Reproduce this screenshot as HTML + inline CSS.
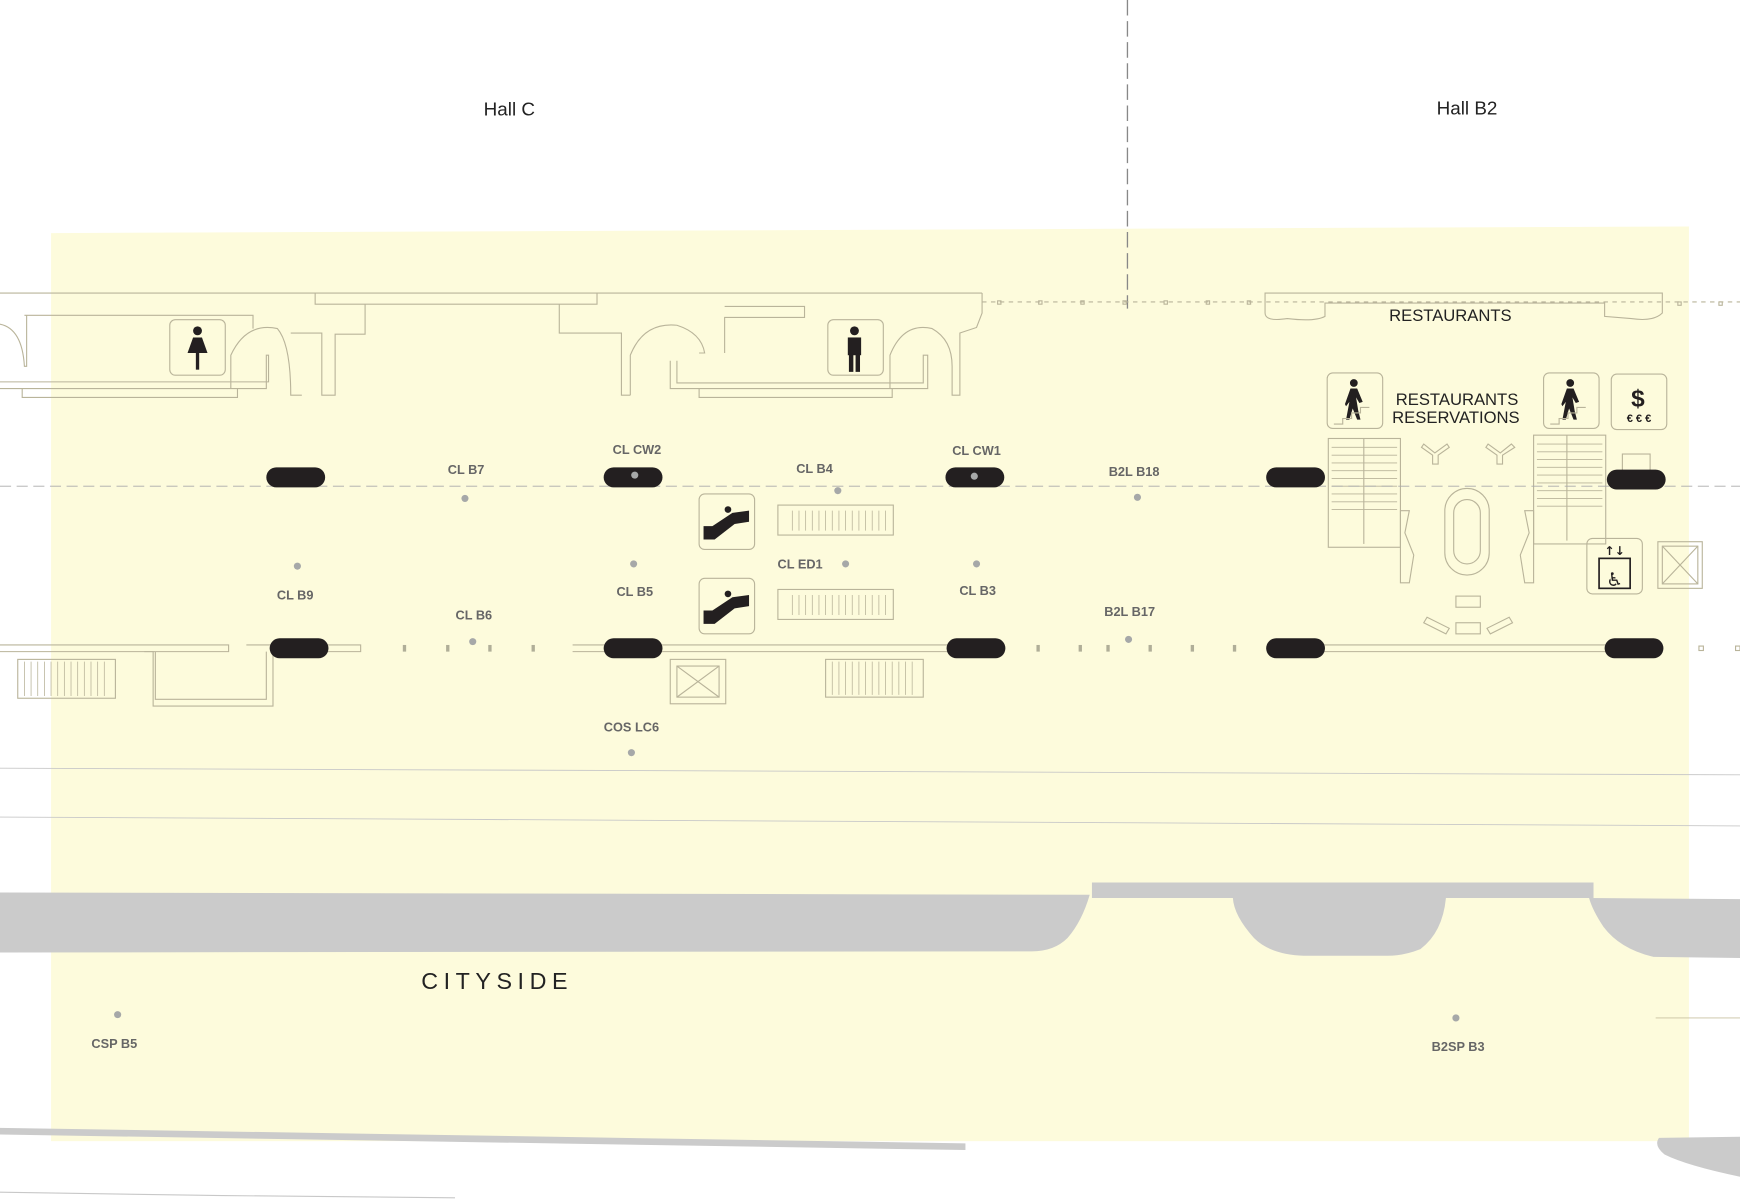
<!DOCTYPE html>
<html><head><meta charset="utf-8"><style>
html,body{margin:0;padding:0;background:#fff;width:1740px;height:1200px;overflow:hidden}
svg{display:block}
.lbl{font-family:"Liberation Sans Narrow","Liberation Sans",sans-serif;font-weight:bold;font-size:11.5px;fill:#666;text-anchor:middle}
.w{fill:none;stroke:#b9b49a;stroke-width:1}
.d{fill:#a6a8a8}
.pill{fill:#231f20}
</style></head><body>
<svg width="1740" height="1200" viewBox="0 0 1568 1081" preserveAspectRatio="none" xmlns="http://www.w3.org/2000/svg">
<rect width="1568" height="1081" fill="#fff"/>
<polygon points="46,210 1522,204 1522,1028 46,1028" fill="#fdfbdc"/>
<text x="459" y="104" font-family="Liberation Sans,sans-serif" font-size="17" text-anchor="middle" fill="#222">Hall C</text>
<text x="1322" y="103" font-family="Liberation Sans,sans-serif" font-size="17" text-anchor="middle" fill="#222">Hall B2</text>
<line x1="1016" y1="0" x2="1016" y2="278" stroke="#888" stroke-width="1.2" stroke-dasharray="14,5"/>
<polyline class="w" points="0,264 885,264"/>
<polyline class="w" points="885,272 1568,272" stroke-dasharray="4,4"/>
<polyline class="w" points="284,264 284,274 538,274 538,264"/>
<polyline class="w" points="329,274 329,301 302,301 302,356 290,356 290,300 262,300"/>
<polyline class="w" points="22,284 228,284 228,296"/>
<path class="w" d="M0,292 Q20,296 22,330 L24,330 L24,284"/>
<path class="w" d="M208,350 L208,320 Q222,290 250,296 Q262,310 262,356 L272,356"/>
<polyline class="w" points="0,344 242,344 242,320 240,320 240,350 0,350"/>
<polyline class="w" points="20,350 20,358 214,358 214,350"/>
<polyline class="w" points="504,274 504,300 560,300 560,356 568,356"/>
<path class="w" d="M568,356 L568,320 Q580,290 610,293 Q632,300 635,318 L630,318"/>
<polyline class="w" points="604,325 604,350 836,350 836,320 832,320 832,345 610,345 610,325"/>
<polyline class="w" points="630,350 630,358 804,358 804,350"/>
<polyline class="w" points="653,318 653,286 725,286 725,276 653,276"/>
<path class="w" d="M802,350 L802,320 Q814,290 840,296 Q858,306 858,330 L858,356 L865,356 L865,300 L880,295 L885,282 L885,264"/>
<rect x="153" y="288" width="50" height="50" rx="5" class="w" fill="#fdfbdc"/>
<rect x="746" y="288" width="50" height="50" rx="5" class="w" fill="#fdfbdc"/>
<g fill="#231f20">
<circle cx="178" cy="298" r="4"/><polygon points="174,304 182,304 187,318 169,318"/><rect x="176.5" y="318" width="3" height="15"/>
<circle cx="770" cy="298" r="4"/><rect x="764" y="304" width="12" height="16"/><rect x="765" y="318" width="4" height="17"/><rect x="771" y="318" width="4" height="17"/>
</g>
<path class="w" d="M1140,264 L1498,264 L1498,282 Q1490,290 1470,287 L1446,285 L1446,273 L1194,273 L1194,285 Q1185,290 1160,287 Q1140,290 1140,282 Z"/>
<g class="w"><rect x="899" y="271" width="3" height="3"/><rect x="936" y="271" width="3" height="3"/><rect x="974" y="271" width="3" height="3"/><rect x="1012" y="271" width="3" height="3"/><rect x="1049" y="271" width="3" height="3"/><rect x="1087" y="271" width="3" height="3"/><rect x="1124" y="271" width="3" height="3"/><rect x="1512" y="272" width="3" height="3"/><rect x="1549" y="272" width="3" height="3"/></g>
<text x="1307" y="289" font-family="Liberation Sans Narrow,Liberation Sans,sans-serif" font-size="15" text-anchor="middle" fill="#222">RESTAURANTS</text>
<text x="1313" y="365" font-family="Liberation Sans Narrow,Liberation Sans,sans-serif" font-size="15" text-anchor="middle" fill="#222">RESTAURANTS</text>
<text x="1312" y="381" font-family="Liberation Sans Narrow,Liberation Sans,sans-serif" font-size="15" text-anchor="middle" fill="#222">RESERVATIONS</text>
<rect x="1196" y="336" width="50" height="50" rx="5" class="w"/>
<rect x="1391" y="336" width="50" height="50" rx="5" class="w"/>
<rect x="1452" y="337" width="50" height="50" rx="5" class="w"/>
<g fill="#231f20">
<circle cx="1220" cy="345" r="3.5"/><polygon points="1217,350 1223,350 1228,362 1225,363 1222,358 1224,370 1226,378 1223,378 1219,368 1216,378 1213,378 1216,362 1213,366 1212,364"/>
<circle cx="1415" cy="345" r="3.5"/><polygon points="1412,350 1418,350 1423,362 1420,363 1417,358 1419,370 1421,378 1418,378 1414,368 1411,378 1408,378 1411,362 1408,366 1407,364"/>
</g>
<polyline class="w" points="1202,382 1210,382 1210,377 1218,377 1218,372 1226,372 1226,367 1234,367"/>
<polyline class="w" points="1397,382 1405,382 1405,377 1413,377 1413,372 1421,372 1421,367 1429,367"/>
<text x="1476" y="366" font-family="Liberation Sans,sans-serif" font-weight="bold" font-size="22" text-anchor="middle" fill="#231f20">$</text>
<text x="1477" y="380" font-family="Liberation Sans,sans-serif" font-weight="bold" font-size="10" text-anchor="middle" fill="#231f20">€ € €</text>
<g class="w">
<rect x="1197" y="395" width="65" height="98"/><line x1="1229" y1="395" x2="1229" y2="490"/>
<rect x="1382" y="392" width="65" height="98"/><line x1="1412" y1="392" x2="1412" y2="487"/>
</g>
<g stroke="#b9b49a" stroke-width="0.8">
<line x1="1200" y1="403" x2="1259" y2="403"/><line x1="1200" y1="410" x2="1259" y2="410"/><line x1="1200" y1="417" x2="1259" y2="417"/><line x1="1200" y1="424" x2="1259" y2="424"/><line x1="1200" y1="431" x2="1259" y2="431"/><line x1="1200" y1="438" x2="1259" y2="438"/><line x1="1200" y1="445" x2="1259" y2="445"/><line x1="1200" y1="452" x2="1259" y2="452"/><line x1="1200" y1="459" x2="1259" y2="459"/>
<line x1="1385" y1="400" x2="1444" y2="400"/><line x1="1385" y1="407" x2="1444" y2="407"/><line x1="1385" y1="414" x2="1444" y2="414"/><line x1="1385" y1="421" x2="1444" y2="421"/><line x1="1385" y1="428" x2="1444" y2="428"/><line x1="1385" y1="435" x2="1444" y2="435"/><line x1="1385" y1="442" x2="1444" y2="442"/><line x1="1385" y1="449" x2="1444" y2="449"/><line x1="1385" y1="456" x2="1444" y2="456"/>
</g>
<path class="w" d="M1262,460 L1270,460 L1266,480 L1274,500 L1270,525 L1262,525 Z"/>
<path class="w" d="M1382,460 L1374,460 L1378,480 L1370,500 L1374,525 L1382,525 Z"/>
<rect x="1302" y="440" width="40" height="78" rx="20" class="w"/>
<rect x="1310" y="450" width="24" height="58" rx="12" class="w"/>
<path class="w" d="M1283,400 L1293,408 L1304,400 L1306,403 L1296,410 L1296,418 L1291,418 L1291,410 L1281,403 Z"/>
<path class="w" d="M1341,400 L1352,408 L1362,400 L1365,403 L1354,410 L1354,418 L1349,418 L1349,410 L1339,403 Z"/>
<rect x="1312" y="537" width="22" height="10" class="w"/><rect x="1312" y="561" width="22" height="10" class="w"/>
<polygon class="w" points="1286,556 1306,566 1303,571 1283,561"/><polygon class="w" points="1360,556 1340,566 1343,571 1363,561"/>
<rect x="1462" y="409" width="25" height="20" class="w"/>
<rect x="1430" y="485" width="50" height="50" rx="5" class="w"/>
<rect x="1441" y="503" width="28" height="27" fill="none" stroke="#231f20" stroke-width="1.5"/>
<text x="1455" y="500" font-family="DejaVu Sans,sans-serif" font-weight="bold" font-size="11" text-anchor="middle" fill="#231f20">↑↓</text>
<text x="1455" y="528" font-family="DejaVu Sans,sans-serif" font-size="17" text-anchor="middle" fill="#231f20">♿</text>
<rect x="1494" y="488" width="40" height="42" class="w"/><rect x="1498" y="492" width="32" height="34" class="w"/>
<line x1="1498" y1="492" x2="1530" y2="526" stroke="#b9b49a"/><line x1="1530" y1="492" x2="1498" y2="526" stroke="#b9b49a"/>
<line x1="0" y1="438" x2="1568" y2="438" stroke="#aaa" stroke-width="0.8" stroke-dasharray="10,5"/>
<g class="w">
<polyline points="0,581 206,581 206,587 0,587"/>
<polyline points="222,581 325,581 325,587 246,587 246,636 138,636 138,587 130,587"/>
<polyline points="140,587 140,630 240,630 240,587"/>
<polyline points="516,581 870,581 870,587 516,587"/>
<polyline points="1190,581 1450,581 1450,587 1190,587"/>
<rect x="16" y="594" width="88" height="35"/><rect x="744" y="594" width="88" height="34"/>
<rect x="604" y="594" width="50" height="40"/><rect x="610" y="600" width="38" height="28"/>
<rect x="701" y="455" width="104" height="27"/><rect x="701" y="531" width="104" height="27"/>
<rect x="1531" y="582" width="4" height="4"/><rect x="1564" y="582" width="4" height="4"/>
</g>
<line x1="610" y1="600" x2="648" y2="628" stroke="#b9b49a"/><line x1="648" y1="600" x2="610" y2="628" stroke="#b9b49a"/>
<g stroke="#b9b49a" stroke-width="0.7">
<path d="M22,596V627M28,596V627M34,596V627M40,596V627M46,596V627M52,596V627M58,596V627M64,596V627M70,596V627M76,596V627M82,596V627M88,596V627M94,596V627"/>
<path d="M750,596V626M756,596V626M762,596V626M768,596V626M774,596V626M780,596V626M786,596V626M792,596V626M798,596V626M804,596V626M810,596V626M816,596V626M822,596V626"/>
<path d="M714,460V478M720,460V478M726,460V478M732,460V478M738,460V478M744,460V478M750,460V478M756,460V478M762,460V478M768,460V478M774,460V478M780,460V478M786,460V478M792,460V478M798,460V478"/>
<path d="M714,536V554M720,536V554M726,536V554M732,536V554M738,536V554M744,536V554M750,536V554M756,536V554M762,536V554M768,536V554M774,536V554M780,536V554M786,536V554M792,536V554M798,536V554"/>
</g>
<g fill="#b0ae98">
<rect x="363" y="581" width="3" height="6"/><rect x="402" y="581" width="3" height="6"/><rect x="440" y="581" width="3" height="6"/><rect x="479" y="581" width="3" height="6"/>
<rect x="934" y="581" width="3" height="6"/><rect x="972" y="581" width="3" height="6"/><rect x="997" y="581" width="3" height="6"/><rect x="1035" y="581" width="3" height="6"/><rect x="1073" y="581" width="3" height="6"/><rect x="1111" y="581" width="3" height="6"/>
</g>
<rect x="630" y="445" width="50" height="50" rx="5" class="w"/>
<rect x="630" y="521" width="50" height="50" rx="5" class="w"/>
<g fill="#231f20">
<polygon points="634,474 642,474 660,462 675,460 675,470 662,472 644,486 634,486"/><circle cx="656" cy="459" r="3"/>
<polygon points="634,550 642,550 660,538 675,536 675,546 662,548 644,562 634,562"/><circle cx="656" cy="535" r="3"/>
</g>
<g class="pill">
<rect x="240" y="421" width="53" height="18" rx="9"/><rect x="544" y="421" width="53" height="18" rx="9"/><rect x="852" y="421" width="53" height="18" rx="9"/><rect x="1141" y="421" width="53" height="18" rx="9"/><rect x="1448" y="423" width="53" height="18" rx="9"/>
<rect x="243" y="575" width="53" height="18" rx="9"/><rect x="544" y="575" width="53" height="18" rx="9"/><rect x="853" y="575" width="53" height="18" rx="9"/><rect x="1141" y="575" width="53" height="18" rx="9"/><rect x="1446" y="575" width="53" height="18" rx="9"/>
</g>
<text class="lbl" x="420" y="427">CL B7</text><circle class="d" cx="419" cy="449" r="3.2"/>
<text class="lbl" x="574" y="409">CL CW2</text><circle class="d" cx="572" cy="428" r="3.2"/>
<text class="lbl" x="734" y="426">CL B4</text><circle class="d" cx="755" cy="442" r="3.2"/>
<text class="lbl" x="880" y="410">CL CW1</text><circle class="d" cx="878" cy="429" r="3.2"/>
<text class="lbl" x="1022" y="429">B2L B18</text><circle class="d" cx="1025" cy="448" r="3.2"/>
<text class="lbl" x="266" y="540">CL B9</text><circle class="d" cx="268" cy="510" r="3.2"/>
<text class="lbl" x="572" y="537">CL B5</text><circle class="d" cx="571" cy="508" r="3.2"/>
<text class="lbl" x="721" y="512">CL ED1</text><circle class="d" cx="762" cy="508" r="3.2"/>
<text class="lbl" x="881" y="536">CL B3</text><circle class="d" cx="880" cy="508" r="3.2"/>
<text class="lbl" x="1018" y="555">B2L B17</text><circle class="d" cx="1017" cy="576" r="3.2"/>
<text class="lbl" x="427" y="558">CL B6</text><circle class="d" cx="426" cy="578" r="3.2"/>
<text class="lbl" x="569" y="659">COS LC6</text><circle class="d" cx="569" cy="678" r="3.2"/>
<text class="lbl" x="103" y="944">CSP B5</text><circle class="d" cx="106" cy="914" r="3.2"/>
<text class="lbl" x="1314" y="947">B2SP B3</text><circle class="d" cx="1312" cy="917" r="3.2"/>
<line x1="0" y1="692" x2="1568" y2="698" stroke="#c8c8c8" stroke-width="0.8"/>
<line x1="0" y1="736" x2="1568" y2="744" stroke="#c8c8c8" stroke-width="0.8"/>
<path d="M0,804 L982,806 Q975,830 962,845 Q950,857 930,857 L0,858 Z" fill="#cbcbcb"/>
<path d="M984,795 L1436,795 L1436,809 L1303,809 Q1300,840 1280,855 Q1265,861 1250,861 L1175,861 Q1145,860 1130,845 Q1112,825 1111,809 L984,809 Z" fill="#cbcbcb"/>
<path d="M1432,809 L1568,810 L1568,863 L1490,862 Q1460,855 1445,835 Q1435,820 1432,809 Z" fill="#cbcbcb"/>
<text x="448" y="891" font-family="Liberation Sans,sans-serif" font-size="21" text-anchor="middle" letter-spacing="5" fill="#222">CITYSIDE</text>
<polygon points="0,1016 870,1030 870,1036 0,1022" fill="#cbcbcb"/>
<path d="M1495,1025 L1568,1024 L1568,1060 Q1520,1050 1500,1040 Q1490,1032 1495,1025 Z" fill="#cbcbcb"/>
<line x1="1492" y1="917" x2="1568" y2="917" stroke="#c8c0a0" stroke-width="0.8"/>
<polyline points="0,1074 200,1077 410,1079" fill="none" stroke="#c8c8c8" stroke-width="1"/>
</svg>
</body></html>
